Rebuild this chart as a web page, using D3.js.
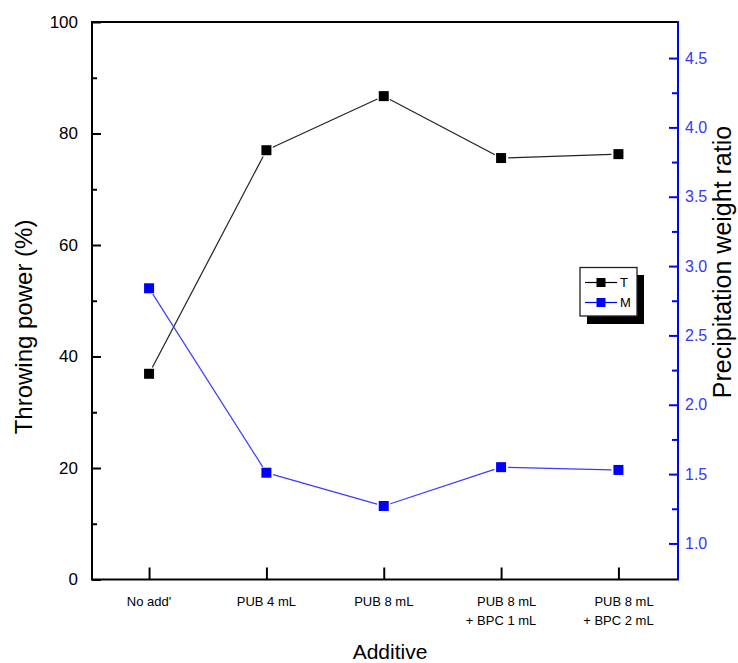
<!DOCTYPE html>
<html>
<head>
<meta charset="utf-8">
<script src="https://cdn.jsdelivr.net/npm/d3@7/dist/d3.min.js"></script>
<style>
  html, body { margin: 0; padding: 0; background: #ffffff; }
  svg { display: block; font-family: "Liberation Sans", Arial, sans-serif; }
</style>
</head>
<body>
<svg id="chart" width="738" height="663"></svg>
<script>
// Additive conditions (multi-line labels)
const categories = [
  ["No add'"],
  ["PUB 4 mL"],
  ["PUB 8 mL"],
  ["PUB 8 mL", "+ BPC 1 mL"],
  ["PUB 8 mL", "+ BPC 2 mL"]
];
// Throwing power (%), left axis
const throwingPower = [36.9, 77.0, 86.7, 75.6, 76.3];
// Precipitation weight ratio, right axis
const weightRatio = [2.84, 1.51, 1.27, 1.55, 1.53];

const leftTicks = [0, 20, 40, 60, 80, 100];
const leftMinor = [10, 30, 50, 70, 90];
const rightTicks = [1.0, 1.5, 2.0, 2.5, 3.0, 3.5, 4.0, 4.5];
const rightMinor = [1.25, 1.75, 2.25, 2.75, 3.25, 3.75, 4.25];

const legendItems = ["T", "M"];

const svg = d3.select("#chart");
const frame = { left: 92, right: 678, top: 22, bottom: 579.5 };
const blue = "#0000ff";

const keys = categories.map((c, i) => i);
const x = d3.scalePoint().domain(keys).range([90.4, 677.1]).padding(0.5);
const yL = d3.scaleLinear().domain([0, 100]).range([frame.bottom, frame.top]);
const yR = d3.scaleLinear().domain([0.74, 4.76]).range([frame.bottom, frame.top]);

// ---- left axis (ticks point inward)
const gL = svg.append("g").attr("transform", `translate(${frame.left},0)`);
gL.call(d3.axisLeft(yL).tickValues(leftTicks).tickSize(-9).tickPadding(14).tickFormat(d3.format("d")));
gL.select(".domain").remove();
gL.selectAll(".tick line").attr("stroke", "#000").attr("stroke-width", 2);
gL.selectAll(".tick text").attr("fill", "#000").attr("font-size", 17);
const gLm = svg.append("g").attr("transform", `translate(${frame.left},0)`);
gLm.call(d3.axisLeft(yL).tickValues(leftMinor).tickSize(-5).tickFormat(""));
gLm.select(".domain").remove();
gLm.selectAll(".tick line").attr("stroke", "#000").attr("stroke-width", 2);

// ---- right axis (blue)
const gR = svg.append("g").attr("transform", `translate(${frame.right},0)`);
gR.call(d3.axisRight(yR).tickValues(rightTicks).tickSize(-9).tickPadding(7).tickFormat(d3.format(".1f")));
gR.select(".domain").remove();
gR.selectAll(".tick line").attr("stroke", blue).attr("stroke-width", 2);
gR.selectAll(".tick text").attr("fill", "#3636ff").attr("font-size", 16);
const gRm = svg.append("g").attr("transform", `translate(${frame.right},0)`);
gRm.call(d3.axisRight(yR).tickValues(rightMinor).tickSize(-6).tickFormat(""));
gRm.select(".domain").remove();
gRm.selectAll(".tick line").attr("stroke", blue).attr("stroke-width", 2);

// ---- bottom axis: ticks at each category, pointing up
const gB = svg.append("g").attr("transform", `translate(0,${frame.bottom})`);
gB.call(d3.axisBottom(x).tickSize(-12).tickFormat(""));
gB.select(".domain").remove();
gB.selectAll(".tick line").attr("stroke", "#000").attr("stroke-width", 2);

// category labels: lines right-aligned within a block centred on the tick
const labG = svg.append("g").attr("font-size", 13).attr("fill", "#000");
keys.forEach(i => {
  const lines = categories[i];
  const t = labG.append("text").attr("y", 606);
  lines.forEach((ln, j) => t.append("tspan").attr("dy", j === 0 ? 0 : 19).text(ln));
  if (lines.length === 1) {
    t.attr("text-anchor", "middle").attr("x", x(i));
    t.selectAll("tspan").attr("x", x(i));
  } else {
    let w = 0;
    t.selectAll("tspan").each(function () { w = Math.max(w, this.getComputedTextLength()); });
    const xe = x(i) + w / 2;
    t.attr("text-anchor", "end");
    t.selectAll("tspan").attr("x", xe);
  }
});

// ---- frame
svg.append("line").attr("x1", frame.left).attr("x2", frame.right - 1)
  .attr("y1", frame.top).attr("y2", frame.top).attr("stroke", "#000").attr("stroke-width", 2);
svg.append("line").attr("x1", frame.left).attr("x2", frame.right - 1)
  .attr("y1", frame.bottom).attr("y2", frame.bottom).attr("stroke", "#000").attr("stroke-width", 2);
svg.append("line").attr("x1", frame.left).attr("x2", frame.left)
  .attr("y1", frame.top - 1).attr("y2", frame.bottom + 1).attr("stroke", "#000").attr("stroke-width", 2);
svg.append("line").attr("x1", frame.right).attr("x2", frame.right)
  .attr("y1", frame.top - 1).attr("y2", frame.bottom + 1).attr("stroke", blue).attr("stroke-width", 2);

// ---- series: segments stop short of each marker
function drawSeries(values, yScale, lineColor, markColor) {
  const pts = values.map((v, i) => [x(i), yScale(v)]);
  const g = svg.append("g");
  const gap = 7;
  for (let i = 0; i < pts.length - 1; i++) {
    const [x1, y1] = pts[i], [x2, y2] = pts[i + 1];
    const len = Math.hypot(x2 - x1, y2 - y1);
    const ux = (x2 - x1) / len, uy = (y2 - y1) / len;
    g.append("line")
      .attr("x1", x1 + ux * gap).attr("y1", y1 + uy * gap)
      .attr("x2", x2 - ux * gap).attr("y2", y2 - uy * gap)
      .attr("stroke", lineColor).attr("stroke-width", 1.2);
  }
  g.selectAll("rect").data(pts).join("rect")
    .attr("x", d => d[0] - 5).attr("y", d => d[1] - 5)
    .attr("width", 10).attr("height", 10)
    .attr("fill", markColor);
}
drawSeries(throwingPower, yL, "#222", "#000");
drawSeries(weightRatio, yR, "#3a3aff", blue);

// ---- legend with drop shadow
const lg = svg.append("g");
lg.append("rect").attr("x", 587).attr("y", 275).attr("width", 57).attr("height", 49).attr("fill", "#000");
lg.append("rect").attr("x", 580).attr("y", 267.5).attr("width", 57).attr("height", 48.5)
  .attr("fill", "#fff").attr("stroke", "#222").attr("stroke-width", 1.3);
const legendColors = [["#000", "#000"], [blue, blue]];
legendItems.forEach((name, i) => {
  const yy = 282.5 + i * 20;
  lg.append("line").attr("x1", 585).attr("x2", 617).attr("y1", yy).attr("y2", yy)
    .attr("stroke", legendColors[i][0]).attr("stroke-width", 1.2);
  lg.append("rect").attr("x", 596.5).attr("y", yy - 4.5).attr("width", 9).attr("height", 9)
    .attr("fill", legendColors[i][1]);
  lg.append("text").attr("x", 620).attr("y", yy + 4.5).attr("font-size", 13)
    .attr("fill", "#000").text(name);
});

// ---- axis titles
svg.append("text").attr("transform", "translate(32,327) rotate(-90)")
  .attr("text-anchor", "middle").attr("font-size", 24).attr("fill", "#000")
  .text("Throwing power (%)");
svg.append("text").attr("transform", "translate(731,262) rotate(-90)")
  .attr("text-anchor", "middle").attr("font-size", 25).attr("fill", "#000")
  .text("Precipitation weight ratio");
svg.append("text").attr("x", 390).attr("y", 659)
  .attr("text-anchor", "middle").attr("font-size", 21).attr("fill", "#000")
  .text("Additive");
</script>
</body>
</html>
